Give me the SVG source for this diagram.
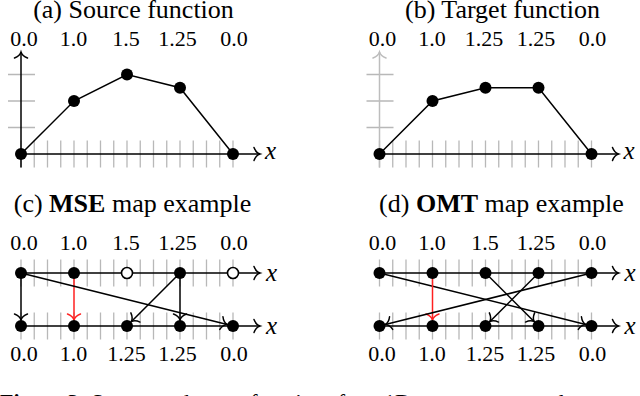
<svg xmlns="http://www.w3.org/2000/svg" width="640" height="396" viewBox="0 0 640 396">
<defs>
<style>
.t{font-family:"Liberation Serif","DejaVu Serif",serif;fill:#000}
.title{font-size:26px;text-anchor:middle}
.num{font-size:22px;text-anchor:middle}
.var{font-size:25px;font-style:italic}
.tick{stroke:#b8b8b8;stroke-width:1.3;fill:none}
.ln{stroke:#000;stroke-width:1.5;fill:none}
.lg{stroke:#bdbdbd;stroke-width:1.5;fill:none}
.lr{stroke:#ff2020;stroke-width:1.5;fill:none}
.dot{fill:#000}
.open{fill:#fff;stroke:#000;stroke-width:1.6}
</style>
<marker id="ah" markerUnits="userSpaceOnUse" markerWidth="12" markerHeight="16" viewBox="-9 -8 12 16" refX="0" refY="0" orient="auto" overflow="visible">
<path d="M-6,-6.5 C-4.5,-2.5 -2,-0.6 0,0 C-2,0.6 -4.5,2.5 -6,6.5" fill="none" stroke="#000" stroke-width="1.5" stroke-linecap="round"/>
</marker>
<marker id="ahr" markerUnits="userSpaceOnUse" markerWidth="12" markerHeight="16" viewBox="-9 -8 12 16" refX="0" refY="0" orient="auto" overflow="visible">
<path d="M-6,-6.5 C-4.5,-2.5 -2,-0.6 0,0 C-2,0.6 -4.5,2.5 -6,6.5" fill="none" stroke="#ff2020" stroke-width="1.5" stroke-linecap="round"/>
</marker>
<marker id="ahg" markerUnits="userSpaceOnUse" markerWidth="12" markerHeight="16" viewBox="-9 -8 12 16" refX="0" refY="0" orient="auto" overflow="visible">
<path d="M-6,-6.5 C-4.5,-2.5 -2,-0.6 0,0 C-2,0.6 -4.5,2.5 -6,6.5" fill="none" stroke="#bdbdbd" stroke-width="1.5" stroke-linecap="round"/>
</marker>
<path id="vt" class="tick" d="M21,-13.5v27m13.25,-27v27m13.25,-27v27m13.25,-27v27m13.25,-27v27m13.25,-27v27m13.25,-27v27m13.25,-27v27m13.25,-27v27m13.25,-27v27m13.25,-27v27m13.25,-27v27m13.25,-27v27m13.25,-27v27m13.25,-27v27m13.25,-27v27m13.25,-27v27"/>
</defs>

<!-- Panel (a) -->
<g id="panel-a">
<text class="t title" x="133.5" y="18">(a) Source function</text>
<g class="t num">
<text x="24" y="46">0.0</text><text x="73.5" y="46">1.0</text><text x="126" y="46">1.5</text><text x="177.5" y="46">1.25</text><text x="234" y="46">0.0</text>
</g>
<use href="#vt" y="154"/>
<path class="tick" d="M8,127.5H35M8,101H35M8,74.5H35"/>
<path class="ln" d="M21,167.5V52" marker-end="url(#ah)"/>
<path class="ln" d="M21,154H260" marker-end="url(#ah)"/>
<text class="t var" x="265" y="159">x</text>
<polyline class="ln" points="21,154 74,101 127,74.5 180,87.75 233,154"/>
</g>
<g id="a-n0"><circle class="dot" cx="21" cy="154" r="6"/></g>
<g id="a-n1"><circle class="dot" cx="74" cy="101" r="6"/></g>
<g id="a-n2"><circle class="dot" cx="127" cy="74.5" r="6"/></g>
<g id="a-n3"><circle class="dot" cx="180" cy="87.75" r="6"/></g>
<g id="a-n4"><circle class="dot" cx="233" cy="154" r="6"/></g>

<!-- Panel (b) -->
<g id="panel-b">
<text class="t title" x="502.5" y="18">(b) Target function</text>
<g class="t num">
<text x="382.5" y="46">0.0</text><text x="432" y="46">1.0</text><text x="484" y="46">1.25</text><text x="536" y="46">1.25</text><text x="592.5" y="46">0.0</text>
</g>
<use href="#vt" x="358.5" y="154"/>
<path class="tick" d="M366.5,127.5H393.5M366.5,101H393.5M366.5,74.5H393.5"/>
<path class="lg" d="M379.5,167.5V52" marker-end="url(#ahg)"/>
<path class="ln" d="M379.5,154H618.5" marker-end="url(#ah)"/>
<text class="t var" x="623.5" y="159">x</text>
<polyline class="ln" points="379.5,154 432.5,101 485.5,87.75 538.5,87.75 591.5,154"/>
</g>
<g id="b-n0"><circle class="dot" cx="379.5" cy="154" r="6"/></g>
<g id="b-n1"><circle class="dot" cx="432.5" cy="101" r="6"/></g>
<g id="b-n2"><circle class="dot" cx="485.5" cy="87.75" r="6"/></g>
<g id="b-n3"><circle class="dot" cx="538.5" cy="87.75" r="6"/></g>
<g id="b-n4"><circle class="dot" cx="591.5" cy="154" r="6"/></g>

<!-- Panel (c) -->
<g id="panel-c">
<text class="t title" x="132.5" y="212">(c) <tspan font-weight="bold">MSE</tspan> map example</text>
<g class="t num">
<text x="24" y="250">0.0</text><text x="73.5" y="250">1.0</text><text x="126" y="250">1.5</text><text x="177.5" y="250">1.25</text><text x="234" y="250">0.0</text>
<text x="24" y="361">0.0</text><text x="73.5" y="361">1.0</text><text x="126.5" y="361">1.25</text><text x="177.5" y="361">1.25</text><text x="234" y="361">0.0</text>
</g>
<use href="#vt" y="273"/>
<use href="#vt" y="326"/>
<path class="ln" d="M21,273H260" marker-end="url(#ah)"/>
<path class="ln" d="M21,326H260" marker-end="url(#ah)"/>
<text class="t var" x="266" y="281">x</text>
<text class="t var" x="266" y="334">x</text>
</g>
<g id="connectors-c">
<path class="ln" d="M21,273V320" marker-end="url(#ah)"/>
<path class="lr" d="M74,273V320" marker-end="url(#ahr)"/>
<path class="ln" d="M21,273L227.2,324.5" marker-end="url(#ah)"/>
<path class="ln" d="M180,273V320" marker-end="url(#ah)"/>
<path class="ln" d="M180,273L131.2,321.7" marker-end="url(#ah)"/>
</g>
<g id="c-s0"><circle class="dot" cx="21" cy="273" r="6"/></g>
<g id="c-s1"><circle class="dot" cx="74" cy="273" r="6"/></g>
<g id="c-s2"><circle class="open" cx="127" cy="273" r="5.5"/></g>
<g id="c-s3"><circle class="dot" cx="180" cy="273" r="6"/></g>
<g id="c-s4"><circle class="open" cx="233" cy="273" r="5.5"/></g>
<g id="c-t0"><circle class="dot" cx="21" cy="326" r="6"/></g>
<g id="c-t1"><circle class="dot" cx="74" cy="326" r="6"/></g>
<g id="c-t2"><circle class="dot" cx="127" cy="326" r="6"/></g>
<g id="c-t3"><circle class="dot" cx="180" cy="326" r="6"/></g>
<g id="c-t4"><circle class="dot" cx="233" cy="326" r="6"/></g>

<!-- Panel (d) -->
<g id="panel-d">
<text class="t title" x="501.5" y="212">(d) <tspan font-weight="bold">OMT</tspan> map example</text>
<g class="t num">
<text x="382.5" y="250">0.0</text><text x="432" y="250">1.0</text><text x="485" y="250">1.5</text><text x="536" y="250">1.25</text><text x="592.5" y="250">0.0</text>
<text x="382" y="361">0.0</text><text x="432" y="361">1.0</text><text x="485" y="361">1.25</text><text x="536" y="361">1.25</text><text x="592.5" y="361">0.0</text>
</g>
<use href="#vt" x="358.5" y="273"/>
<use href="#vt" x="358.5" y="326"/>
<path class="ln" d="M379.5,273H618.5" marker-end="url(#ah)"/>
<path class="ln" d="M379.5,326H618.5" marker-end="url(#ah)"/>
<text class="t var" x="624.5" y="281">x</text>
<text class="t var" x="624.5" y="334">x</text>
</g>
<g id="connectors-d">
<path class="ln" d="M379.5,273L585.7,324.5" marker-end="url(#ah)"/>
<path class="lr" d="M432.5,273V320" marker-end="url(#ahr)"/>
<path class="ln" d="M485.5,273L534.3,321.7" marker-end="url(#ah)"/>
<path class="ln" d="M538.5,273L489.7,321.7" marker-end="url(#ah)"/>
<path class="ln" d="M591.5,273L385.3,324.5" marker-end="url(#ah)"/>
</g>
<g id="d-s0"><circle class="dot" cx="379.5" cy="273" r="6"/></g>
<g id="d-s1"><circle class="dot" cx="432.5" cy="273" r="6"/></g>
<g id="d-s2"><circle class="dot" cx="485.5" cy="273" r="6"/></g>
<g id="d-s3"><circle class="dot" cx="538.5" cy="273" r="6"/></g>
<g id="d-s4"><circle class="dot" cx="591.5" cy="273" r="6"/></g>
<g id="d-t0"><circle class="dot" cx="379.5" cy="326" r="6"/></g>
<g id="d-t1"><circle class="dot" cx="432.5" cy="326" r="6"/></g>
<g id="d-t2"><circle class="dot" cx="485.5" cy="326" r="6"/></g>
<g id="d-t3"><circle class="dot" cx="538.5" cy="326" r="6"/></g>
<g id="d-t4"><circle class="dot" cx="591.5" cy="326" r="6"/></g>

<text class="t" x="0" y="409" font-size="22"><tspan font-weight="bold">Figure 3:</tspan> Source and target functions for a 1D transport example.</text>
</svg>
